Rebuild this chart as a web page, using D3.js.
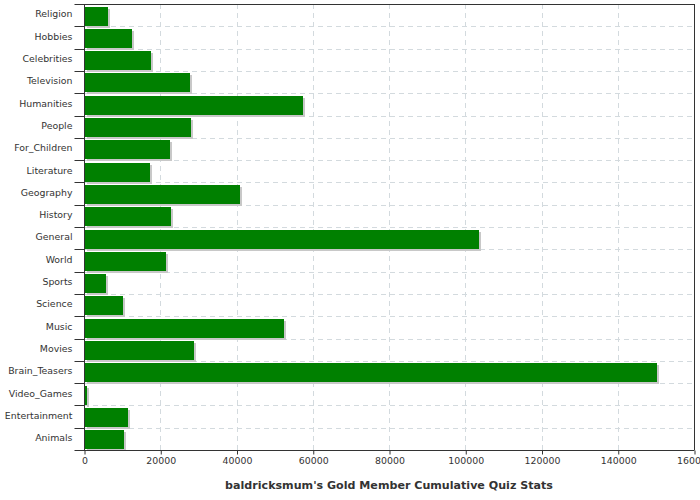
<!DOCTYPE html>
<html>
<head>
<meta charset="utf-8">
<script src="https://d3js.org/d3.v7.min.js"></script>
<style>
body { margin: 0; background: #fff; }
svg { display: block; }
text { font-family: "DejaVu Sans", sans-serif; }
</style>
</head>
<body>
<div id="chart"></div>
<script>
const categories = ["Religion","Hobbies","Celebrities","Television","Humanities","People","For_Children","Literature","Geography","History","General","World","Sports","Science","Music","Movies","Brain_Teasers","Video_Games","Entertainment","Animals"];
const values = [6400,12700,17700,27900,57350,27950,22450,17200,40800,22700,103550,21600,5650,10100,52350,28750,150250,900,11500,10400];
const xTicks = [0,20000,40000,60000,80000,100000,120000,140000,160000];
const title = "baldricksmum's Gold Member Cumulative Quiz Stats";

(function () {
const W = 700, H = 500;
const pLeft = 84, pTop = 4, pRight = 694, pBottom = 450;

const svg = d3.select("#chart").append("svg").attr("width", W).attr("height", H);

const x = d3.scaleLinear().domain([0, 160000]).range([pLeft, pRight]);
const y = d3.scaleBand().domain(categories).range([pTop, pBottom]).paddingInner(0).paddingOuter(0);
const bw = y.bandwidth();

// grid
const grid = svg.append("g").attr("stroke", "#d3dade").attr("stroke-dasharray", "5,4").attr("stroke-width", 1);
xTicks.slice(1, -1).forEach(t => {
  grid.append("line").attr("x1", Math.round(x(t)) + 0.5).attr("x2", Math.round(x(t)) + 0.5)
    .attr("y1", pTop).attr("y2", pBottom);
});
categories.slice(1).forEach(c => {
  const yy = Math.round(y(c)) + 0.5;
  grid.append("line").attr("x1", pLeft).attr("x2", pRight).attr("y1", yy).attr("y2", yy);
});

// bars: shadow + bar
const bars = svg.append("g");
categories.forEach((c, i) => {
  const y0 = Math.round(y(c) + 2.5);
  const h = Math.round(bw - 3.5);
  const x0 = pLeft + 1;
  const w = Math.max(1, Math.round(x(values[i])) - x0);
  bars.append("rect").attr("x", x0 + 2).attr("y", y0 + 2).attr("width", w).attr("height", h).attr("fill", "#c8c8c8");
  bars.append("rect").attr("x", x0).attr("y", y0).attr("width", w).attr("height", h).attr("fill", "#008000");
});

// border top/right
svg.append("line").attr("x1", pLeft).attr("x2", pRight + 0.5).attr("y1", pTop + 0.5).attr("y2", pTop + 0.5).attr("stroke", "#333");
svg.append("line").attr("x1", pRight + 0.5).attr("x2", pRight + 0.5).attr("y1", pTop).attr("y2", pBottom).attr("stroke", "#333");

// x axis
const xAxis = d3.axisBottom(x).tickValues(xTicks).tickSize(4).tickPadding(3).tickFormat(d3.format("d"));
const gx = svg.append("g").attr("transform", `translate(0.5,${pBottom + 0.5})`).call(xAxis);
gx.select(".domain").attr("stroke", "#333").attr("d", `M${pLeft - 0.5},0H${pRight}`);
gx.selectAll(".tick line").attr("stroke", "#333");
gx.selectAll(".tick text").attr("fill", "#333").attr("font-size", "9.4px").attr("font-family", "DejaVu Sans");

// y axis
const gy = svg.append("g").attr("transform", `translate(${pLeft + 0.5},0)`);
gy.append("line").attr("x1", 0).attr("x2", 0).attr("y1", pTop).attr("y2", pBottom + 0.5).attr("stroke", "#333");
const bounds = categories.map(c => y(c)).concat([pBottom]);
bounds.forEach(b => {
  const yy = Math.round(b) + 0.5;
  gy.append("line").attr("x1", -10).attr("x2", 0).attr("y1", yy).attr("y2", yy).attr("stroke", "#333");
});
categories.forEach(c => {
  gy.append("text").attr("x", -12).attr("y", y(c) + bw / 2 - 1).attr("dy", "0.35em")
    .attr("text-anchor", "end").attr("fill", "#333").attr("font-size", "9.4px").text(c);
});

// title
svg.append("text").attr("x", (pLeft + pRight) / 2).attr("y", 489).attr("text-anchor", "middle")
  .attr("font-weight", "bold").attr("font-size", "11.1px").attr("fill", "#333").text(title);
})();
</script>
</body>
</html>
